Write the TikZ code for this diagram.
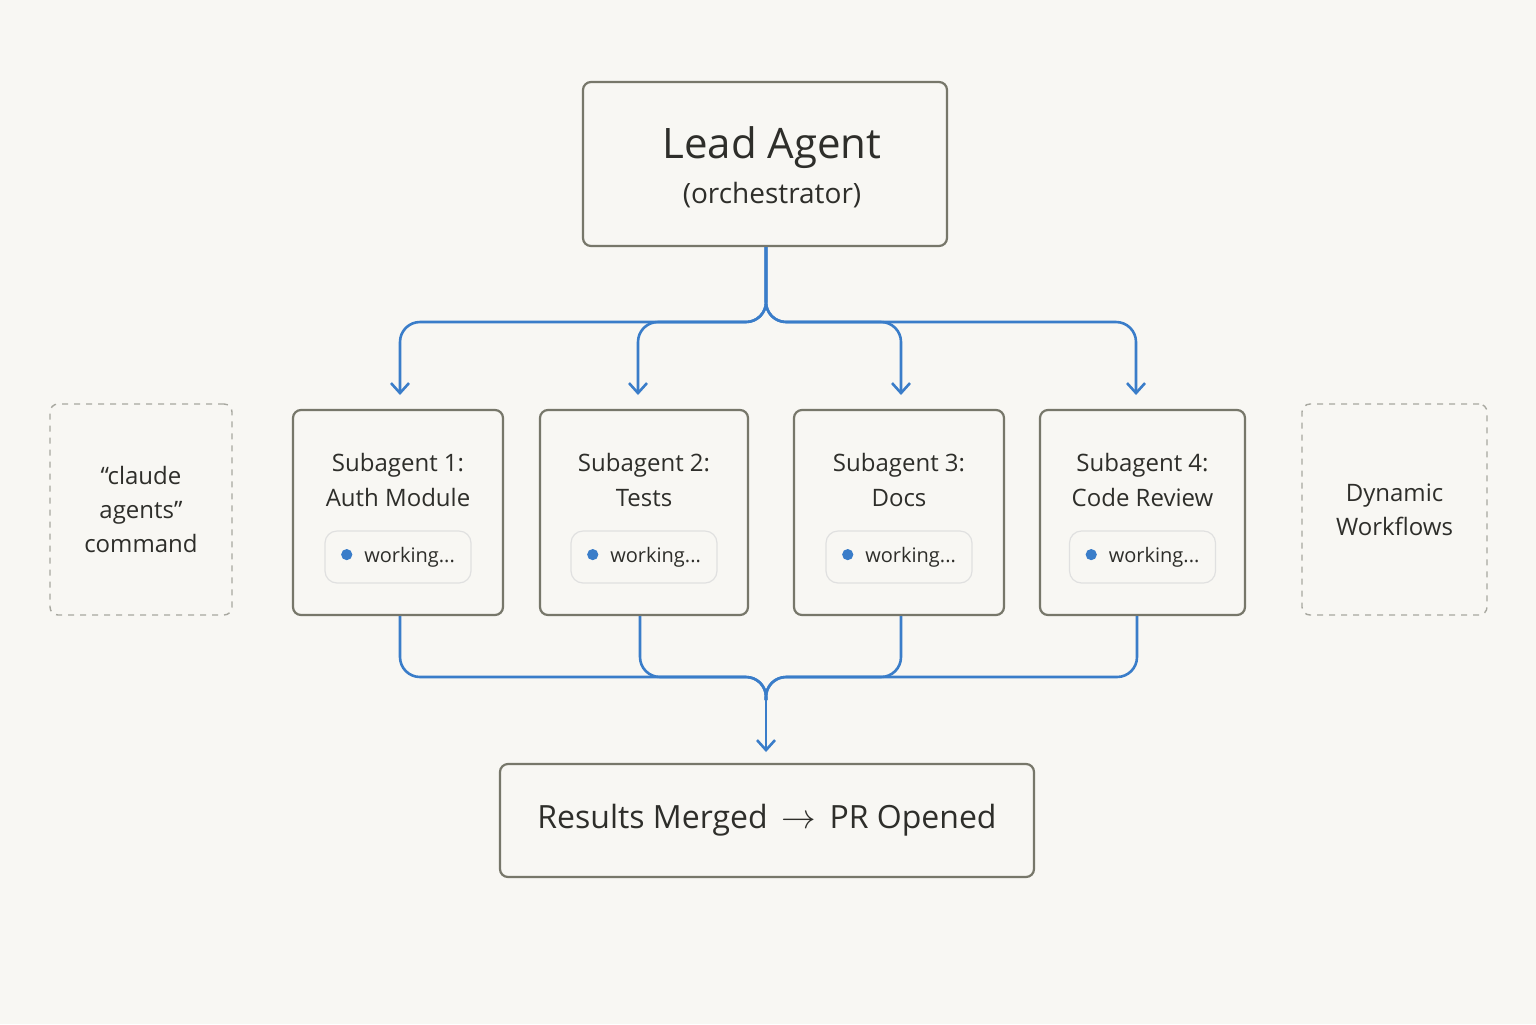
\documentclass[tikz,border=0pt]{standalone}
\usepackage{fontspec}
\setmainfont{Open Sans}
\usetikzlibrary{arrows.meta, positioning}
\definecolor{bgcol}{HTML}{F8F7F3}
\definecolor{framecol}{HTML}{77776A}
\definecolor{flowcol}{HTML}{3A7DC9}
\definecolor{dashcol}{HTML}{A8A8A0}
\definecolor{textcol}{HTML}{2E2E2A}

\begin{document}
\begin{tikzpicture}[x=0.5pt, y=-0.5pt,
    box/.style={draw=framecol, line width=1.1pt, rounded corners=4pt, fill=bgcol,
        text=textcol, align=center, inner sep=0pt},
    side/.style={draw=dashcol, dashed, line width=0.7pt, rounded corners=4pt,
        text=textcol, align=center, inner sep=0pt, font=\fontsize{12}{17}\selectfont},
    pill/.style={draw=black!12, line width=0.6pt, rounded corners=6pt, fill=bgcol,
        minimum width=73pt, minimum height=26pt, inner sep=0pt, text=textcol,
        font=\fontsize{10}{12}\selectfont},
    flow/.style={draw=flowcol, line width=1.3pt, rounded corners=10pt},
    tip/.style={-{Straight Barb[length=5pt, width=9pt]}}]
    % background and frame size
    \fill[bgcol] (0,0) rectangle (1536,1024);

    \node[box, minimum width=182pt, minimum height=82pt] (lead) at (765,164) {};
    \node[text=textcol, font=\fontsize{21}{24}\selectfont] at (772,148) {Lead Agent};
    \node[text=textcol, font=\fontsize{14}{16}\selectfont] at (772,195) {(orchestrator)};

    % subagents
    \foreach \i/\xl/\xr/\title in {1/293/503/{Subagent 1:\\Auth Module},
                                  2/540/748/{Subagent 2:\\Tests},
                                  3/794/1004/{Subagent 3:\\Docs},
                                  4/1040/1245/{Subagent 4:\\Code Review}} {
        \node[box, minimum width={(\xr-\xl)/2*1pt}, minimum height=102.5pt] (sub\i)
            at ({(\xl+\xr)/2},512.5) {};
        \node[text=textcol, align=center, font=\fontsize{12}{17.5}\selectfont]
            (title\i) at ({(\xl+\xr)/2},480) {\title};
        \node[pill] (pill\i) at ({(\xl+\xr)/2},557)
            {\textcolor{flowcol}{\raisebox{1pt}{\tikz\fill (0,0) circle (2.8pt);}}\hspace{6pt}working...};
    }

    \node[side, minimum width=91pt, minimum height=105.5pt] (cmd) at (141,509.5)
        {“claude\\agents”\\command};
    \node[side, minimum width=92.5pt, minimum height=105.5pt] (dyn) at (1394.5,509.5)
        {Dynamic\\Workflows};

    \node[box, minimum width=267pt, minimum height=56.5pt,
        font=\fontsize{16}{19}\selectfont] (merged) at (767,820.5)
        {Results Merged \,$\rightarrow$\, PR Opened};

    % fan out
    \foreach \i/\x in {1/400, 2/638, 3/901, 4/1136} {
        \coordinate (in\i) at (\x,395);
        \draw[flow, tip] (lead.south -| 766,0) |- (\x,322) -- (in\i);
    }
    % fan in
    \coordinate (join) at (766,752);
    \foreach \i/\x in {1/400, 2/640, 3/901, 4/1137} {
        \draw[flow] (sub\i.south -| \x,0) |- (766,677) -- (766,700);
    }
    \draw[flow, tip] (766,690) -- (join);
\end{tikzpicture}
\end{document}
